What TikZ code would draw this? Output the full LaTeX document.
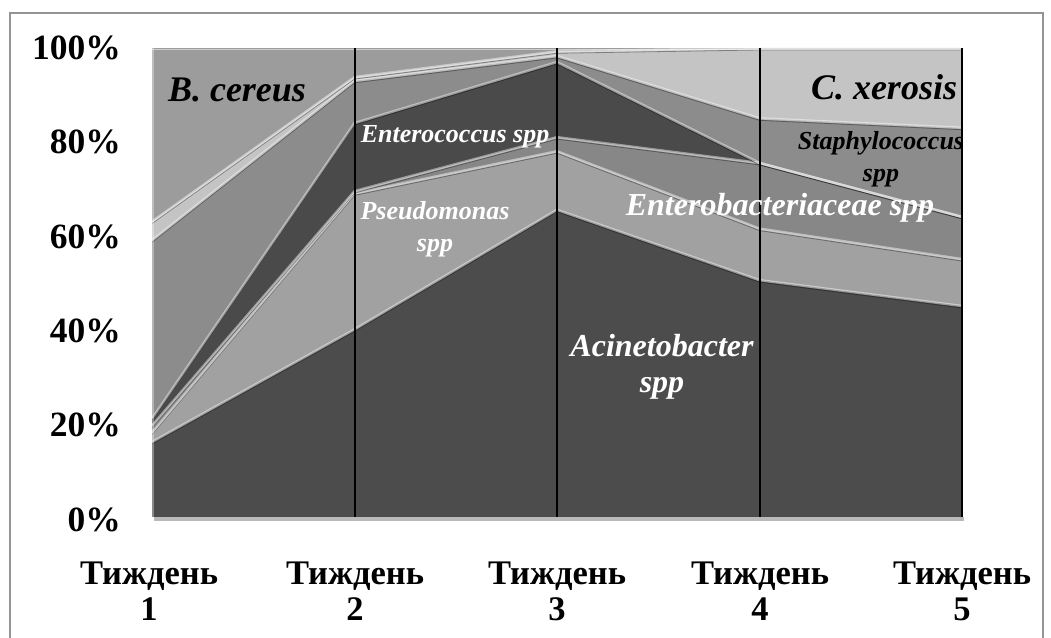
\documentclass[tikz,border=0pt]{standalone}
\usepackage{fontspec}
\setmainfont{Liberation Serif}
\definecolor{cA}{gray}{0.30}
\definecolor{cP}{gray}{0.63}
\definecolor{cE}{gray}{0.53}
\definecolor{cC}{gray}{0.29}
\definecolor{cS}{gray}{0.55}
\definecolor{cX}{gray}{0.77}
\definecolor{cB}{gray}{0.61}
\definecolor{frameg}{gray}{0.58}
\tikzset{
  ridgehi/.style={draw=white, draw opacity=0.45, line width=2.4pt, line join=round},
  ridgelo/.style={draw=black, draw opacity=0.35, line width=0.8pt, line join=round, yshift=-2pt},
  weekline/.style={draw=black, line width=1.8pt},
  ylab/.style={anchor=east, font=\fontsize{35.5}{38}\selectfont\bfseries, inner sep=0pt},
  xlab/.style={anchor=base, font=\fontsize{34.5}{38}\selectfont\bfseries, inner sep=0pt},
  bigdark/.style={font=\fontsize{36}{38}\selectfont\bfseries\itshape, text=black, inner sep=0pt},
  smalldark/.style={font=\fontsize{26}{32}\selectfont\bfseries\itshape, text=black, align=center, inner sep=0pt},
  smallwhite/.style={font=\fontsize{26}{32}\selectfont\bfseries\itshape, text=white, align=center, inner sep=0pt},
  bigwhite/.style={font=\fontsize{32}{36}\selectfont\bfseries\itshape, text=white, align=center, inner sep=0pt},
}
\def\lineA{(152,16) -- (354.5,40) -- (557,65.5) -- (759.5,50.5) -- (962,45)}
\def\lineP{(152,18) -- (354.5,69) -- (557,78) -- (759.5,61.5) -- (962,55)}
\def\lineE{(152,19.5) -- (354.5,69.5) -- (557,81) -- (759.5,75.5) -- (962,64)}
\def\lineC{(152,21) -- (354.5,84) -- (557,97) -- (759.5,75.5) -- (962,64)}
\def\lineS{(152,59) -- (354.5,93) -- (557,98.3) -- (759.5,85) -- (962,83)}
\def\lineX{(152,63) -- (354.5,93.8) -- (557,99.3) -- (759.5,100) -- (962,100)}
\begin{document}
\begin{tikzpicture}[x=1pt,y=1pt]
\useasboundingbox (0,0) rectangle (1051,637);
\fill[white] (0,0) rectangle (1051,637);
% outer frame
\draw[frameg, line width=1.5pt] (10,-5) -- (10,624) -- (1043,624) -- (1043,-5);
% plot shadow
\fill[gray!55] (154,116) rectangle (964,120);
\begin{scope}[yshift=120pt, y=4.69pt]
  \fill[cB] (152,0) rectangle (962,100);
  \fill[cX] (152,0) -- \lineX -- (962,0) -- cycle;
  \fill[cS] (152,0) -- \lineS -- (962,0) -- cycle;
  \fill[cC] (152,0) -- \lineC -- (962,0) -- cycle;
  \fill[cE] (152,0) -- \lineE -- (962,0) -- cycle;
  \fill[cP] (152,0) -- \lineP -- (962,0) -- cycle;
  \fill[cA] (152,0) -- \lineA -- (962,0) -- cycle;
  \foreach \L in {\lineA,\lineP,\lineE,\lineC,\lineS,\lineX}{
    \draw[ridgelo] \L;
    \draw[ridgehi] \L;
  }
  \draw[white, opacity=0.35, line width=2pt] (153,0) -- (153,100);
  \draw[white, opacity=0.5, line width=1.5pt] (152,99.7) -- (962,99.7);
\end{scope}
% week lines
\foreach \x in {355,557,760,962}{
  \draw[weekline] (\x,120) -- (\x,589);
}
% y labels
\node[ylab] (y100) at (121,589) {100\%};
\node[ylab] (y80) at (121,495) {80\%};
\node[ylab] (y60) at (121,400) {60\%};
\node[ylab] (y40) at (121,306) {40\%};
\node[ylab] (y20) at (121,212) {20\%};
\node[ylab] (y0) at (121,117) {0\%};
% x labels
\node[xlab] (w1) at (149,53) {Тиждень};
\node[xlab] (w2) at (355,53) {Тиждень};
\node[xlab] (w3) at (557,53) {Тиждень};
\node[xlab] (w4) at (760,53) {Тиждень};
\node[xlab] (w5) at (962,53) {Тиждень};
\node[xlab] (n1) at (149,17) {1};
\node[xlab] (n2) at (355,17) {2};
\node[xlab] (n3) at (557,17) {3};
\node[xlab] (n4) at (760,17) {4};
\node[xlab] (n5) at (962,17) {5};
% series labels
\node[bigdark] (bc) at (237,547) {B. cereus};
\node[bigdark] (cx) at (884,550) {C. xerosis};
\node[smalldark] (st) at (881,478) {Staphylococcus\\spp};
\node[smallwhite] (ec) at (455,500) {Enterococcus spp};
\node[smallwhite] (ps) at (435,408) {Pseudomonas\\spp};
\node[bigwhite] (eb) at (780,429) {Enterobacteriaceae spp};
\node[bigwhite] (ac) at (662,270) {Acinetobacter\\spp};
\end{tikzpicture}
\end{document}
